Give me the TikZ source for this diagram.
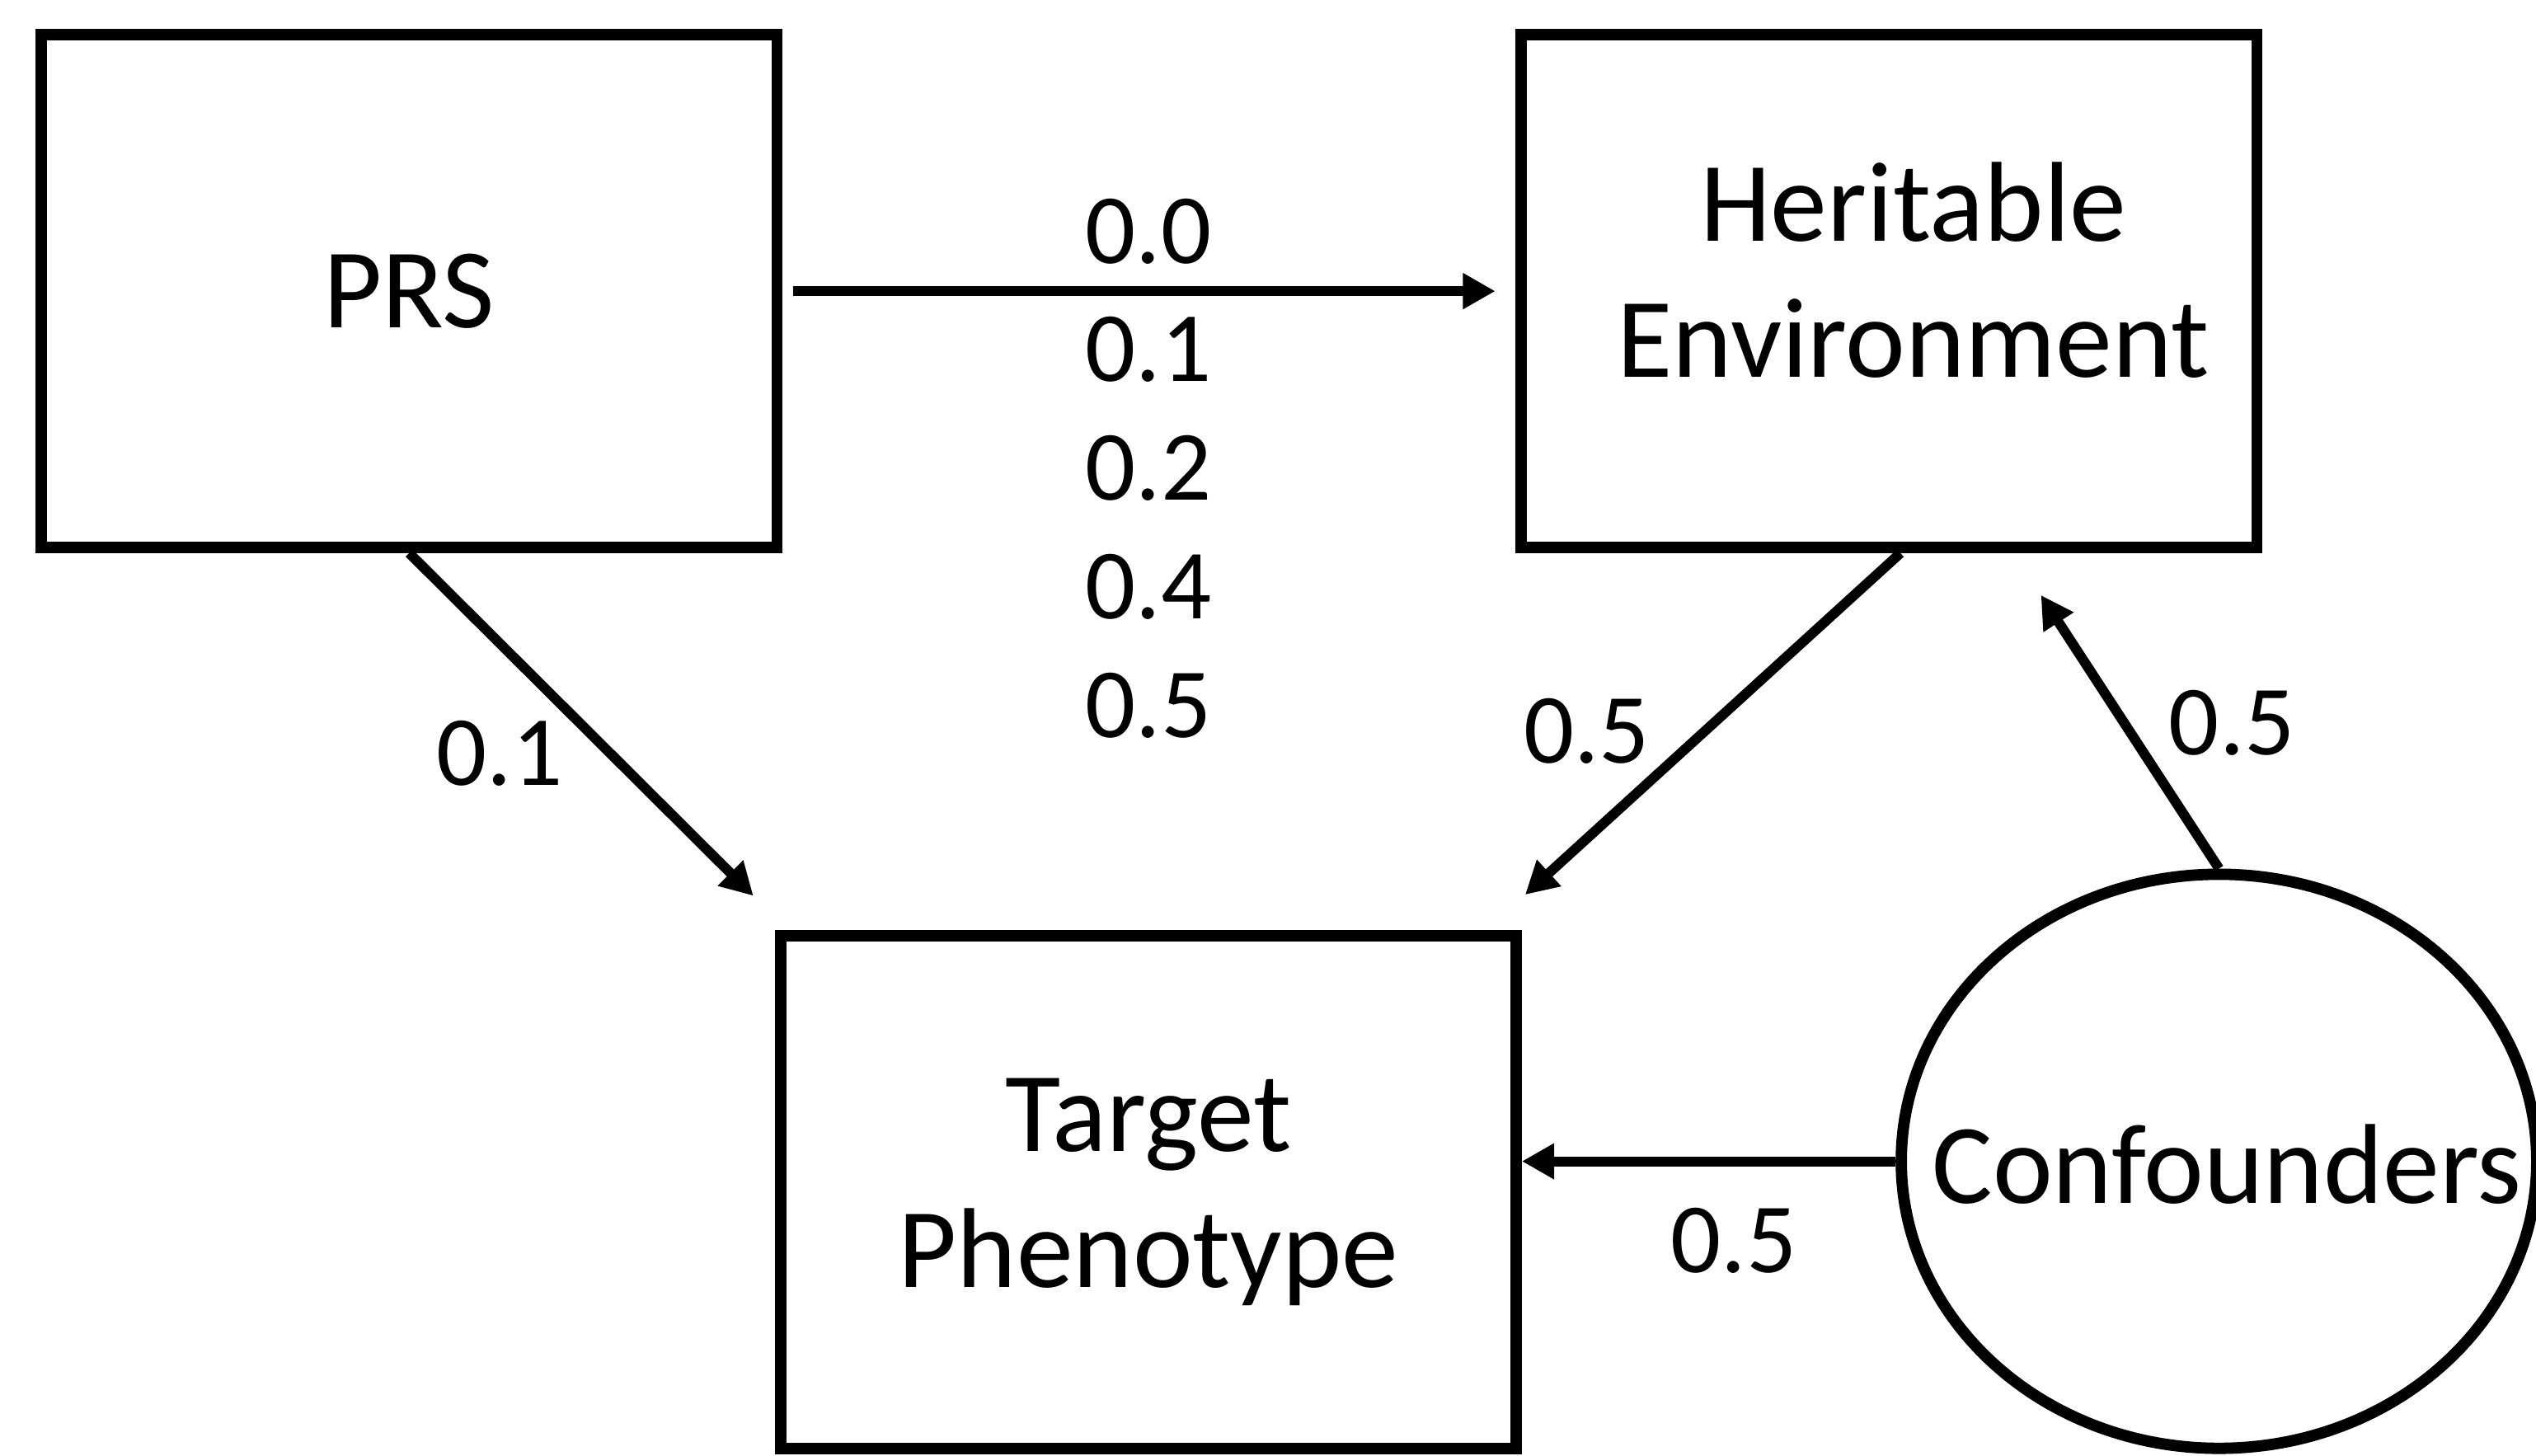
\documentclass[tikz,border=0pt]{standalone}
\usepackage{fontspec}
\setmainfont{Carlito}
\usetikzlibrary{arrows.meta,shapes.geometric}

\begin{document}
\begin{tikzpicture}[
        x=0.02cm, y=-0.02cm,
        box/.style={rectangle, draw, line width=4pt, minimum width=9.1cm, minimum height=6.34cm, align=center, font=\fontsize{40}{47.8}\selectfont},
        circ/.style={ellipse, draw, line width=4pt, minimum width=7.86cm, minimum height=7.1cm, inner sep=0pt},
        boxtext/.style={align=center, inner sep=0pt, font=\fontsize{40}{47.8}\selectfont},
        wt/.style={align=center, inner sep=0pt, font=\fontsize{35}{41.7}\selectfont},
        link/.style={line width=3.5pt, -{Triangle[length=0.4cm, width=0.42cm]}}
      ]
      \useasboundingbox (0,0) rectangle (1568,900);
      % boxes
      \node[box] (prs) at (253,180) {PRS};
      \node[box] (env) at (1168,180) {};
      \node[boxtext] (envtext) at (1183,167) {Heritable\\Environment};
      \node[box] (tgt) at (710,737) {Target\\Phenotype};
      \node[circ] (conf) at (1372,718) {};
      \node[boxtext] (conftext) at (1377,720) {Confounders};
      % paths
      \draw[link, shorten <=0.13cm, shorten >=0.25cm] (prs.east) -- (env.west);
      \draw[link, shorten >=0.6cm] (prs.south) -- ([xshift=0.16cm]tgt.north west);
      \draw[link, shorten >=0.65cm] ([xshift=0.14cm]env.south) -- ([xshift=-0.44cm]tgt.north east);
      \draw[link, shorten >=0.62cm] (conf.north) -- ([xshift=1.54cm]env.south);
      \draw[link] (conf.west) -- (conf.west -| tgt.east);
      % weights
      \node[wt] (wprsenv) at (710,289.5) {0.0\\0.1\\0.2\\0.4\\0.5};
      \node[wt] (wprstgt) at (309,466) {0.1};
      \node[wt] (wenvtgt) at (981,452) {0.5};
      \node[wt] (wconfenv) at (1380,447) {0.5};
      \node[wt] (wconftgt) at (1072,767) {0.5};
    \end{tikzpicture}
\end{document}
